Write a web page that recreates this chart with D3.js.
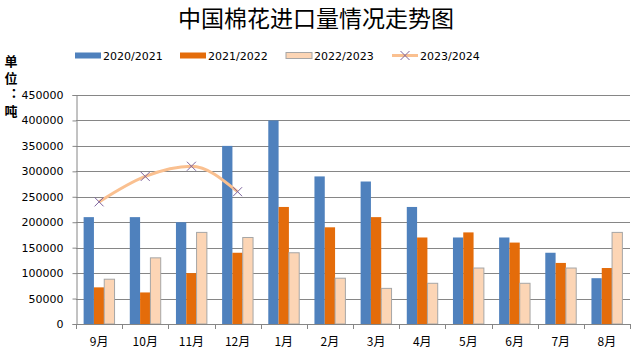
<!DOCTYPE html>
<html>
<head>
<meta charset="utf-8">
<script src="https://cdn.jsdelivr.net/npm/d3@7"></script>
<style>
  html, body { margin: 0; padding: 0; background: #fff; }
  svg { display: block; }
</style>
</head>
<body>
<svg id="chart" width="640" height="355"></svg>
<script>
const months = ["9月","10月","11月","12月","1月","2月","3月","4月","5月","6月","7月","8月"];
const seriesNames = ["2020/2021","2021/2022","2022/2023","2023/2024"];
const s2020 = [210000,210000,200000,350000,400000,290000,280000,230000,170000,170000,140000,90000];
const s2021 = [72000,62000,100000,140000,230000,190000,210000,170000,180000,160000,120000,110000];
const s2022 = [88000,130000,180000,170000,140000,90000,70000,80000,110000,80000,110000,180000];
const s2023 = [240000,290000,310000,260000];
const yTicks = [0,50000,100000,150000,200000,250000,300000,350000,400000,450000];

(function () {
const colors = ["#4f81bd","#e46c0a","#fcd5b5","#fac090"];
const svg = d3.select("#chart");
const fontNum = "'DejaVu Sans', Verdana, sans-serif";
const fontCJK = "'Noto Sans CJK SC', sans-serif";

const pLeft = 76, pRight = 630, pTop = 95, pBottom = 324;
const x = d3.scaleBand().domain(months).range([pLeft, pRight]).paddingInner(0.33).paddingOuter(0.165);
const barSeries = [s2020, s2021, s2022];
const x1 = d3.scaleBand().domain([0,1,2]).range([0, x.bandwidth()]);
const y = d3.scaleLinear().domain([0, 450000]).range([pBottom, pTop]);

// Title
svg.append("text").attr("x", 316).attr("y", 27).attr("text-anchor", "middle")
  .attr("font-family", fontCJK).attr("font-size", 23).attr("fill", "#000")
  .text("中国棉花进口量情况走势图");

// Unit label vertical (single text, vertical writing mode)
svg.append("text").attr("x", 11).attr("y", 55)
  .style("writing-mode", "vertical-rl")
  .attr("font-family", fontCJK).attr("font-weight", "bold").attr("font-size", 13)
  .attr("letter-spacing", 3.5)
  .attr("fill", "#000").text("单位：吨");

// Gridlines
svg.append("g").selectAll("line").data(yTicks.filter(d => d > 0)).join("line")
  .attr("x1", pLeft).attr("x2", pRight)
  .attr("y1", d => Math.round(y(d)) + 0.5).attr("y2", d => Math.round(y(d)) + 0.5)
  .attr("stroke", "#868686").attr("stroke-width", 1);

// Y axis
const yAxis = svg.append("g").attr("transform", `translate(${pLeft + 0.5},0)`)
  .call(d3.axisLeft(y).tickValues(yTicks).tickFormat(d3.format("d")).tickSize(4).tickPadding(9));
yAxis.select(".domain").attr("stroke", "#868686");
yAxis.selectAll(".tick line").attr("stroke", "#868686");
yAxis.selectAll("text").attr("font-family", fontNum).attr("font-size", 11).attr("fill", "#000");

// Bars
const groups = svg.append("g").selectAll("g").data(months).join("g")
  .attr("transform", d => `translate(${x(d)},0)`);
groups.selectAll("rect").data((m, i) => barSeries.map((s, k) => ({k, v: s[i]}))).join("rect")
  .attr("x", d => x1(d.k)).attr("width", x1.bandwidth())
  .attr("y", d => y(d.v)).attr("height", d => y(0) - y(d.v))
  .attr("fill", d => colors[d.k])
  .attr("stroke", d => d.k === 2 ? "#a6a6a6" : "none")
  .attr("stroke-width", 1);

// X axis
const xAxisG = svg.append("g");
xAxisG.append("line").attr("x1", pLeft).attr("x2", pRight + 1)
  .attr("y1", pBottom + 0.5).attr("y2", pBottom + 0.5).attr("stroke", "#868686");
const step = x.step();
const bounds = d3.range(months.length + 1).map(i => pLeft + i * step);
xAxisG.selectAll("line.tk").data(bounds).join("line").attr("class", "tk")
  .attr("x1", d => Math.round(d) + 0.5).attr("x2", d => Math.round(d) + 0.5)
  .attr("y1", pBottom).attr("y2", pBottom + 5).attr("stroke", "#868686");
xAxisG.selectAll("text").data(months).join("text")
  .attr("x", d => x(d) + x.bandwidth() / 2).attr("y", 346).attr("text-anchor", "middle")
  .attr("font-family", fontCJK).attr("font-size", 12).attr("fill", "#000")
  .text(d => d);

// Line series
const lineData = s2023.map((v, i) => ({m: months[i], v}));
const line = d3.line().x(d => x(d.m) + x.bandwidth() / 2).y(d => y(d.v)).curve(d3.curveMonotoneX);
svg.append("path").datum(lineData).attr("d", line)
  .attr("fill", "none").attr("stroke", colors[3]).attr("stroke-width", 3);

function cross(g, cx, cy, r) {
  g.append("path").attr("d", `M${cx - r},${cy - r}L${cx + r},${cy + r}M${cx - r},${cy + r}L${cx + r},${cy - r}`)
    .attr("stroke", "#7e649e").attr("stroke-width", 1).attr("fill", "none");
}
const mk = svg.append("g");
lineData.forEach(d => cross(mk, x(d.m) + x.bandwidth() / 2, y(d.v), 4.5));

// Legend
const legendX = [75, 180, 286, 392];
const leg = svg.append("g");
seriesNames.forEach((name, i) => {
  const lx = legendX[i];
  if (i < 3) {
    leg.append("rect").attr("x", lx).attr("y", 52.5).attr("width", 26).attr("height", 6)
      .attr("fill", colors[i]).attr("stroke", i === 2 ? "#a6a6a6" : "none");
  } else {
    leg.append("line").attr("x1", lx).attr("x2", lx + 26).attr("y1", 55.5).attr("y2", 55.5)
      .attr("stroke", colors[3]).attr("stroke-width", 3);
    cross(leg, lx + 13, 55.5, 4.5);
  }
  leg.append("text").attr("x", lx + 28).attr("y", 59.5)
    .attr("font-family", fontNum).attr("font-size", 11).attr("fill", "#000").text(name);
});
})();
</script>
</body>
</html>
